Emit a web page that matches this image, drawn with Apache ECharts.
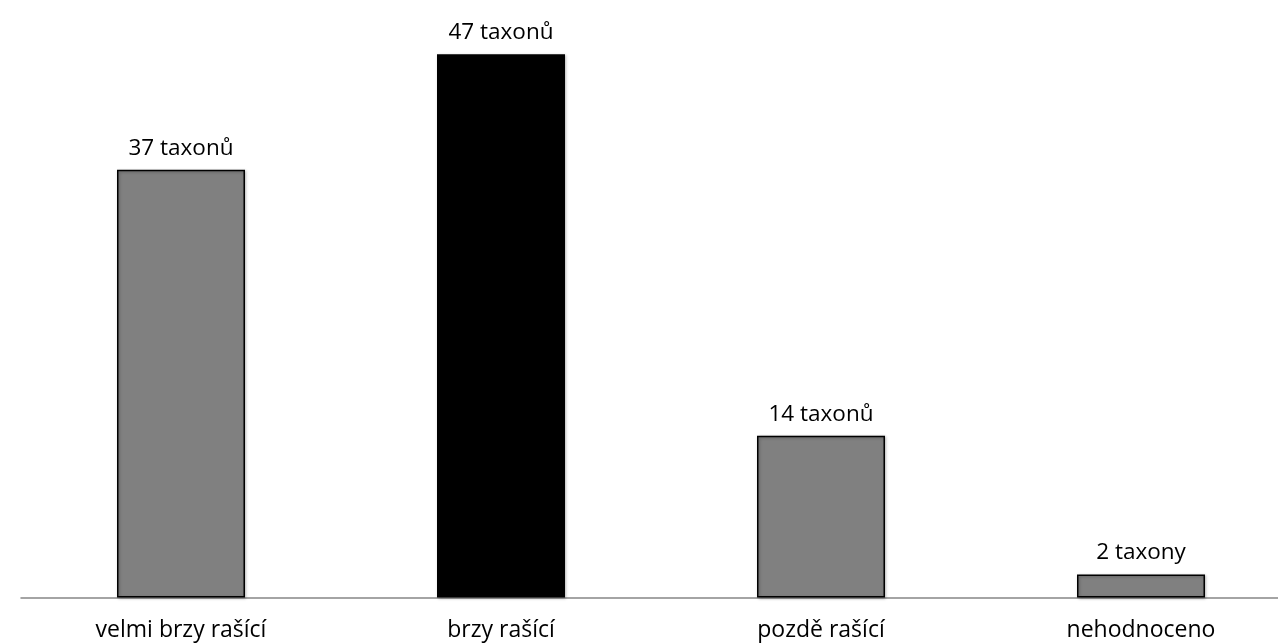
<!DOCTYPE html>
<html>
<head>
<meta charset="utf-8">
<script src="https://cdn.jsdelivr.net/npm/echarts@6/dist/echarts.min.js"></script>
<style>html,body{margin:0;padding:0;background:#fff;overflow:hidden;}#c{width:1278px;height:643px;}</style>
</head>
<body>
<div id="c"></div>
<script>
const categories = ['velmi brzy rašící', 'brzy rašící', 'pozdě rašící', 'nehodnoceno'];
const values = [37, 47, 14, 2];
const valueLabels = ['37 taxonů', '47 taxonů', '14 taxonů', '2 taxony'];
const barColors = ['#808080', '#000000', '#808080', '#808080'];

const chart = echarts.init(document.getElementById('c'));
chart.setOption({
  animation: false,
  grid: { left: 21, width: 1280, top: 19.5, bottom: 45.5, containLabel: false, outerBoundsMode: 'none' },
  xAxis: {
    type: 'category',
    data: categories,
    axisLine: { lineStyle: { color: '#868686', width: 1.5 } },
    axisTick: { show: false },
    axisLabel: { color: '#000', fontFamily: 'Open Sans', fontSize: 23, margin: 21 }
  },
  yAxis: { type: 'value', min: 0, max: 50, show: false, splitLine: { show: false } },
  series: [{
    type: 'bar',
    barWidth: '40%',
    data: values.map((v, i) => ({
      value: v,
      itemStyle: { color: barColors[i] },
      label: { formatter: valueLabels[i] }
    })),
    itemStyle: {
      borderColor: '#000', borderWidth: 1.5,
      shadowBlur: 3, shadowColor: 'rgba(0,0,0,0.3)', shadowOffsetX: 1, shadowOffsetY: 1
    },
    label: { show: true, position: 'top', distance: 10, color: '#000', fontFamily: 'Open Sans', fontSize: 22.5 }
  }]
});
</script>
</body>
</html>
